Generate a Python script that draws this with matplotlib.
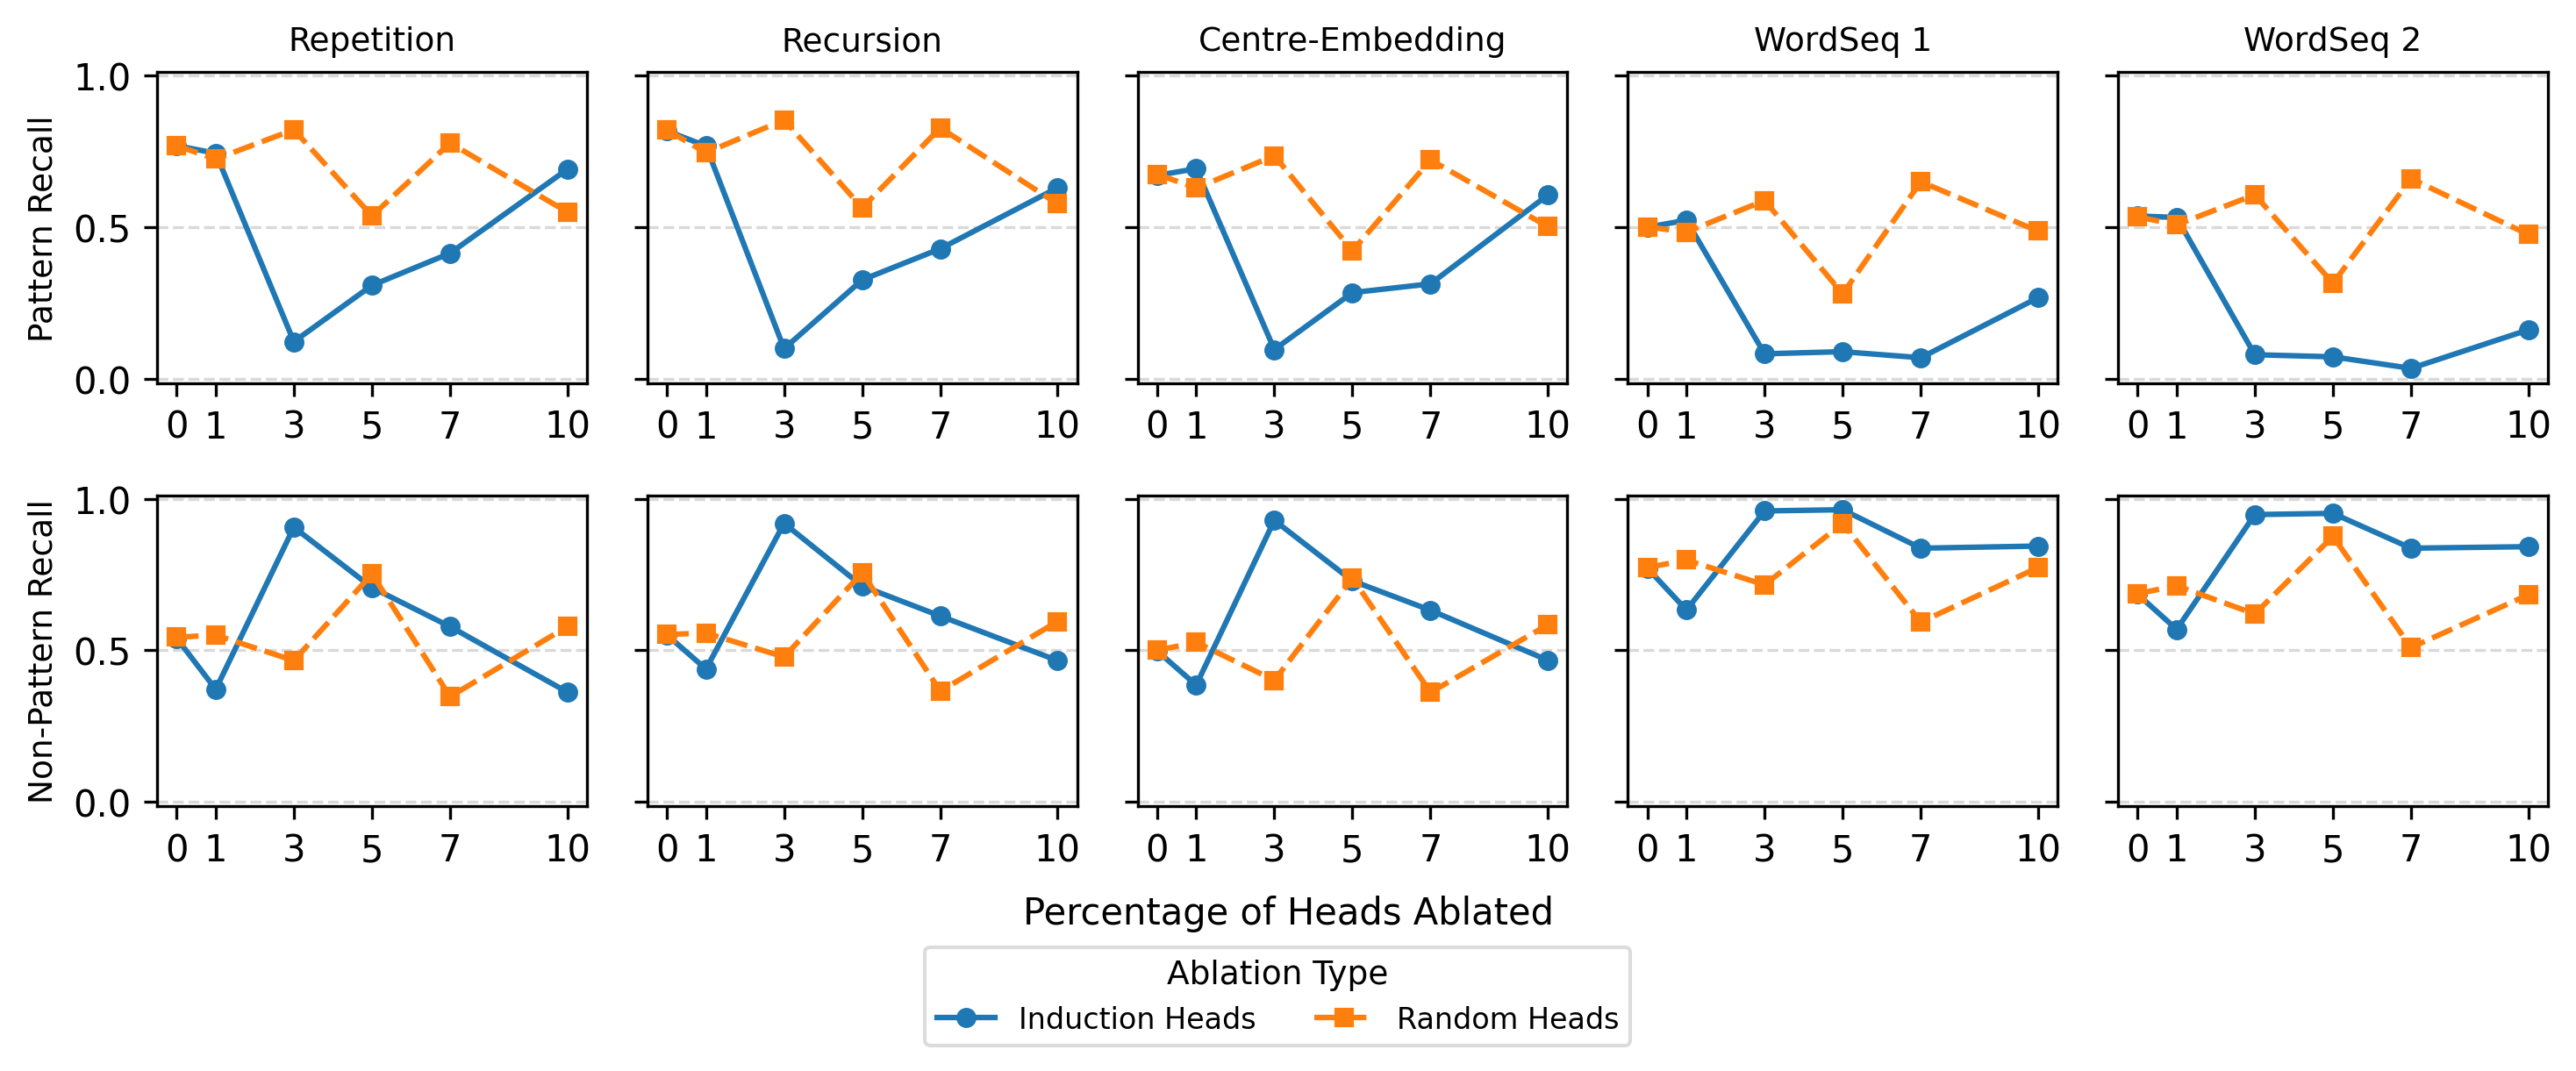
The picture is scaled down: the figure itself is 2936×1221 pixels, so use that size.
import numpy as np
import matplotlib
matplotlib.use("Agg")
import matplotlib.pyplot as plt

# Porcentaje de cabezas ablacionadas
pct = [0, 1, 3, 5, 7, 10]
tasks = ["Repetition", "Recursion", "Centre-Embedding", "WordSeq 1", "WordSeq 2"]

# Pattern recall (fila superior)
pat_induction = [
    [0.769, 0.744, 0.122, 0.308, 0.414, 0.691],
    [0.818, 0.768, 0.099, 0.326, 0.429, 0.630],
    [0.671, 0.693, 0.096, 0.284, 0.313, 0.606],
    [0.500, 0.523, 0.082, 0.089, 0.069, 0.267],
    [0.537, 0.532, 0.079, 0.072, 0.034, 0.161],
]
pat_random = [
    [0.769, 0.725, 0.822, 0.537, 0.778, 0.550],
    [0.821, 0.746, 0.854, 0.564, 0.828, 0.577],
    [0.675, 0.629, 0.736, 0.422, 0.722, 0.502],
    [0.501, 0.484, 0.588, 0.280, 0.650, 0.487],
    [0.534, 0.508, 0.607, 0.315, 0.660, 0.476],
]

# Non-pattern recall (fila inferior)
non_induction = [
    [0.540, 0.371, 0.906, 0.707, 0.578, 0.362],
    [0.551, 0.438, 0.919, 0.712, 0.613, 0.466],
    [0.498, 0.385, 0.929, 0.729, 0.632, 0.467],
    [0.771, 0.633, 0.960, 0.964, 0.837, 0.844],
    [0.685, 0.569, 0.948, 0.952, 0.837, 0.842],
]
non_random = [
    [0.543, 0.550, 0.466, 0.752, 0.347, 0.578],
    [0.552, 0.557, 0.478, 0.756, 0.365, 0.595],
    [0.500, 0.526, 0.401, 0.738, 0.361, 0.584],
    [0.773, 0.798, 0.716, 0.919, 0.593, 0.773],
    [0.687, 0.713, 0.620, 0.876, 0.509, 0.683],
]

rows = [(pat_induction, pat_random, "Pattern Recall"),
        (non_induction, non_random, "Non-Pattern Recall")]

fig, axes = plt.subplots(2, 5, figsize=(9.787, 4.073), dpi=300, sharey=True)
fig.subplots_adjust(left=0.061, right=0.989, top=0.932, bottom=0.247,
                    wspace=0.141, hspace=0.36)

for r, (ind, rnd, ylab) in enumerate(rows):
    for c in range(5):
        ax = axes[r, c]
        ax.grid(axis="y", linestyle="--", color="#d9d9d9", linewidth=0.8)
        ax.set_axisbelow(True)
        ax.plot(pct, ind[c], color="C0", marker="o", markersize=4.5,
                linewidth=1.5, label="Induction Heads")
        ax.plot(pct, rnd[c], color="C1", marker="s", markersize=4.5,
                linewidth=1.5, dashes=(4, 1.5), label="Random Heads")
        ax.set_xticks(pct)
        ax.set_xlim(-0.5, 10.5)
        ax.set_ylim(-0.015, 1.012)
        ax.set_yticks([0.0, 0.5, 1.0])
        if r == 0:
            ax.set_title(tasks[c], fontsize=9)
        if c == 0:
            ax.set_ylabel(ylab, fontsize=9)

fig.text(0.5, 0.147, "Percentage of Heads Ablated", ha="center", va="center",
         fontsize=10)

handles, labels = axes[0, 0].get_legend_handles_labels()
leg = fig.legend(handles, labels, title="Ablation Type", loc="lower center",
                 bbox_to_anchor=(0.496, 0.010), ncol=2, fontsize=8,
                 title_fontsize=9, frameon=True)
leg.get_frame().set_edgecolor("#d4d4d4")

fig.savefig("out.png", dpi=300)
